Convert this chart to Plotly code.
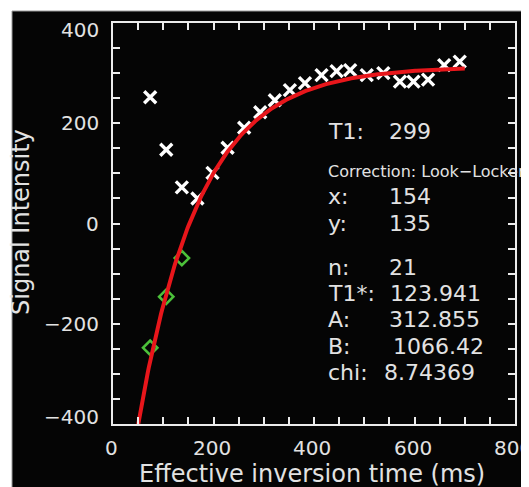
import numpy as np
import plotly.graph_objects as go

# ---------------- data ----------------
t_ms = [74, 106, 137, 168, 198, 228, 261, 293, 322, 352, 382,
        415, 445, 472, 505, 538, 571, 598, 627, 659, 690]
signal = [252, 147, 72, 50, 101, 151, 191, 222, 246, 266, 280,
          296, 304, 306, 296, 300, 283, 283, 287, 316, 323]
inv_t = [74, 106, 137]
inv_signal = [-248, -146, -69]

# fit parameters shown in the chart
A_fit = 312.855
B_fit = 1066.42
T1_star = 123.941
fit_t_start, fit_t_end = 45, 700

x_tick_vals = [0, 200, 400, 600, 800]
x_tick_text = ["0", "200", "400", "600", "800"]
y_tick_vals = [400, 200, 0, -200, -400]
y_tick_text = ["400", "200", "0", "\u2212200", "\u2212400"]

info_labels = ["x:", "y:", "n:", "T1*:", "A:", "B:", "chi:"]
info_values = ["154", "135", "21", "123.941", "312.855", "1066.42", "8.74369"]
t1_label, t1_value = "T1:", "299"
correction_text = "Correction: Look\u2212Locker"

x_title = "Effective inversion time (ms)"
y_title = "Signal Intensity"

# ---------------- layout constants (page pixels) ----------------
PAGE_W, PAGE_H = 529, 487
OFF = 8                      # default body margin of the page
W, H = PAGE_W - OFF, PAGE_H - OFF
L, R, T, Bt = 113, 515, 23, 424
FONT = "DejaVu Sans"
TXT = "#e2e2e2"
AX = "#ececec"


def px_x(p):
    return (p - L) / (R - L)


def px_y(p):
    return (Bt - p) / (Bt - T)


fig = go.Figure()

fig.add_trace(go.Scatter(
    x=t_ms, y=signal, mode="markers",
    marker=dict(symbol="x-thin", size=12, line=dict(color="white", width=3.4)),
    hoverinfo="skip"))

fig.add_trace(go.Scatter(
    x=inv_t, y=inv_signal, mode="markers",
    marker=dict(symbol="diamond-open", size=11, color="#4cc13a",
                line=dict(color="#4cc13a", width=2.6)),
    hoverinfo="skip"))

fit_t = np.linspace(fit_t_start, fit_t_end, 300)
fit_y = A_fit - B_fit * np.exp(-fit_t / T1_star)
fig.add_trace(go.Scatter(
    x=fit_t, y=fit_y, mode="lines",
    line=dict(color="#e8161b", width=4), hoverinfo="skip"))

# ---------------- axes ----------------
minor_x = list(range(0, 801, 50))
minor_y = list(range(-400, 401, 50))
common = dict(ticks="inside", ticklen=7, tickwidth=1.5, tickcolor=AX,
              showline=True, linecolor=AX, linewidth=1.5, mirror="ticks",
              showgrid=False, zeroline=False, showticklabels=False)
fig.update_xaxes(range=[0, 800], tickvals=minor_x, **common)
fig.update_yaxes(range=[-400, 400], tickvals=minor_y, **common)

annotations = []
# x tick labels
for v, s in zip(x_tick_vals, x_tick_text):
    annotations.append(dict(
        x=v, xref="x", y=px_y(447.5), yref="paper", xshift=-2,
        text=s, showarrow=False, xanchor="center", yanchor="middle",
        font=dict(family=FONT, size=20, color=TXT)))
# y tick labels
for v, s in zip(y_tick_vals, y_tick_text):
    shift = -7 if v == 400 else (7 if v == -400 else 0)
    annotations.append(dict(
        x=px_x(101), xref="paper", y=v, yref="y", yshift=shift,
        text=s, showarrow=False, xanchor="right", yanchor="middle",
        font=dict(family=FONT, size=20, color=TXT)))

# axis titles
annotations.append(dict(
    x=px_x(312), y=px_y(474), xref="paper", yref="paper", text=x_title,
    showarrow=False, xanchor="center", yanchor="middle",
    font=dict(family=FONT, size=24, color=TXT)))
annotations.append(dict(
    x=px_x(21), y=px_y(222), xref="paper", yref="paper", text=y_title,
    textangle=-90, showarrow=False, xanchor="center", yanchor="middle",
    font=dict(family=FONT, size=24, color=TXT)))

# info block
annotations.append(dict(
    x=px_x(326), y=px_y(132), xref="paper", yref="paper", text=t1_label,
    showarrow=False, xanchor="left", yanchor="middle",
    font=dict(family=FONT, size=22, color=TXT)))
annotations.append(dict(
    x=px_x(387), y=px_y(132), xref="paper", yref="paper", text=t1_value,
    showarrow=False, xanchor="left", yanchor="middle",
    font=dict(family=FONT, size=22, color=TXT)))
annotations.append(dict(
    x=px_x(326), y=px_y(172), xref="paper", yref="paper", text=correction_text,
    showarrow=False, xanchor="left", yanchor="middle",
    font=dict(family=FONT, size=16, color=TXT)))

row_y = [196, 223, 267, 293, 319, 346, 372]
val_x = [387, 387, 387, 388, 387, 391, 382]
for lab, val, ry, vx in zip(info_labels, info_values, row_y, val_x):
    annotations.append(dict(
        x=px_x(326), y=px_y(ry), xref="paper", yref="paper", text=lab,
        showarrow=False, xanchor="left", yanchor="middle",
        font=dict(family=FONT, size=22, color=TXT)))
    annotations.append(dict(
        x=px_x(vx), y=px_y(ry), xref="paper", yref="paper", text=val,
        showarrow=False, xanchor="left", yanchor="middle",
        font=dict(family=FONT, size=22, color=TXT)))

shapes = [dict(
    type="rect", xref="paper", yref="paper", layer="below",
    x0=px_x(12), x1=px_x(545), y0=px_y(11), y1=px_y(505),
    fillcolor="#050505", line=dict(color="#9a9a9a", width=1))]

fig.update_layout(
    width=W, height=H,
    margin=dict(l=L - OFF, r=PAGE_W - R, t=T - OFF, b=PAGE_H - Bt, pad=0),
    paper_bgcolor="white", plot_bgcolor="#050505",
    showlegend=False, annotations=annotations, shapes=shapes)

fig.write_html("out.html")
